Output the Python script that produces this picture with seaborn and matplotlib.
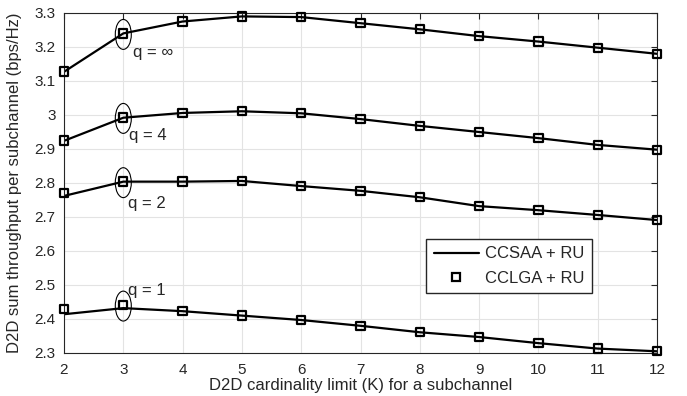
import numpy as np
import pandas as pd
import matplotlib
matplotlib.use('Agg')
import matplotlib.pyplot as plt
from matplotlib.lines import Line2D
from matplotlib.patches import Ellipse
from matplotlib.ticker import FuncFormatter
import seaborn as sns

k_values = [2, 3, 4, 5, 6, 7, 8, 9, 10, 11, 12]
q_labels = ['q = \u221e', 'q = 4', 'q = 2', 'q = 1']

# CCSAA + RU (lines)
ccsaa_qinf = [3.127, 3.240, 3.275, 3.290, 3.288, 3.270, 3.252, 3.232, 3.216, 3.198, 3.180]
ccsaa_q4 = [2.924, 2.992, 3.006, 3.011, 3.005, 2.988, 2.968, 2.950, 2.932, 2.912, 2.898]
ccsaa_q2 = [2.762, 2.804, 2.804, 2.806, 2.791, 2.777, 2.758, 2.732, 2.720, 2.706, 2.691]
ccsaa_q1 = [2.414, 2.432, 2.423, 2.410, 2.397, 2.380, 2.361, 2.347, 2.329, 2.313, 2.305]

# CCLGA + RU (markers)
cclga_qinf = [3.128, 3.240, 3.275, 3.290, 3.288, 3.270, 3.252, 3.232, 3.216, 3.198, 3.180]
cclga_q4 = [2.925, 2.993, 3.006, 3.011, 3.005, 2.988, 2.968, 2.950, 2.932, 2.912, 2.898]
cclga_q2 = [2.771, 2.804, 2.804, 2.806, 2.791, 2.777, 2.758, 2.732, 2.720, 2.706, 2.691]
cclga_q1 = [2.430, 2.441, 2.423, 2.410, 2.397, 2.380, 2.361, 2.347, 2.329, 2.313, 2.305]

ccsaa = [ccsaa_qinf, ccsaa_q4, ccsaa_q2, ccsaa_q1]
cclga = [cclga_qinf, cclga_q4, cclga_q2, cclga_q1]

rows = []
for q, s_vals, g_vals in zip(q_labels, ccsaa, cclga):
    for k, s, g in zip(k_values, s_vals, g_vals):
        rows.append({'K': k, 'q': q, 'ccsaa': s, 'cclga': g})
df = pd.DataFrame(rows)

sns.set_style('white')
plt.rcParams['font.family'] = ['Liberation Sans', 'DejaVu Sans']

fig = plt.figure(figsize=(6.87, 3.96), dpi=100)
ax = fig.add_axes([64 / 687, 1 - 353 / 396, 593 / 687, 340 / 396])

sns.lineplot(data=df, x='K', y='ccsaa', units='q', estimator=None,
             color='black', linewidth=1.6, ax=ax, legend=False)
sns.scatterplot(data=df, x='K', y='cclga', marker='s', s=36, color='black',
                facecolors='none', edgecolor='black', linewidth=1.6,
                ax=ax, legend=False, zorder=3)
for coll in ax.collections:
    coll.set_clip_on(False)

# ellipses and labels at K = 3
label_pos = [(3.16, 3.185), (3.10, 2.94), (3.08, 2.74), (3.08, 2.485)]
for q, g_vals, (tx, ty) in zip(q_labels, cclga, label_pos):
    y3 = g_vals[1]
    ax.add_patch(Ellipse((3, y3 - 0.003), 0.27, 0.088, fill=False,
                         edgecolor='black', linewidth=0.8, zorder=4))
    ax.text(tx, ty, q, fontsize=12, va='center', ha='left')

ax.set_xlim(2, 12)
ax.set_ylim(2.3, 3.3)
ax.set_xticks(k_values)
ax.set_yticks(np.round(np.arange(2.3, 3.31, 0.1), 1))
ax.yaxis.set_major_formatter(FuncFormatter(lambda v, p: '%g' % round(v, 1)))
ax.grid(True, color='#e3e3e3', linewidth=0.8)
ax.tick_params(direction='in', top=True, right=True, labelsize=11,
               length=4, color='#262626')
ax.tick_params(axis='x', pad=7)
ax.tick_params(axis='y', pad=6)
for sp in ax.spines.values():
    sp.set_color('#262626')
    sp.set_linewidth(0.8)

ax.set_xlabel('D2D cardinality limit (K) for a subchannel', fontsize=12, labelpad=1)
ax.set_ylabel('D2D sum throughput per subchannel (bps/Hz)', fontsize=12, labelpad=9)

handles = [Line2D([], [], color='black', linewidth=1.6),
           Line2D([], [], color='black', linestyle='none', marker='s',
                  markerfacecolor='none', markeredgewidth=1.6, markersize=6)]
ax.legend(handles, ['CCSAA + RU', 'CCLGA + RU'], loc='lower right',
          bbox_to_anchor=(0.89, 0.176), borderaxespad=0, fontsize=12,
          frameon=True, fancybox=False, edgecolor='#262626', framealpha=1,
          handlelength=2.7, handletextpad=0.35, borderpad=0.45,
          labelspacing=0.55)

fig.savefig('out.png', dpi=100)
